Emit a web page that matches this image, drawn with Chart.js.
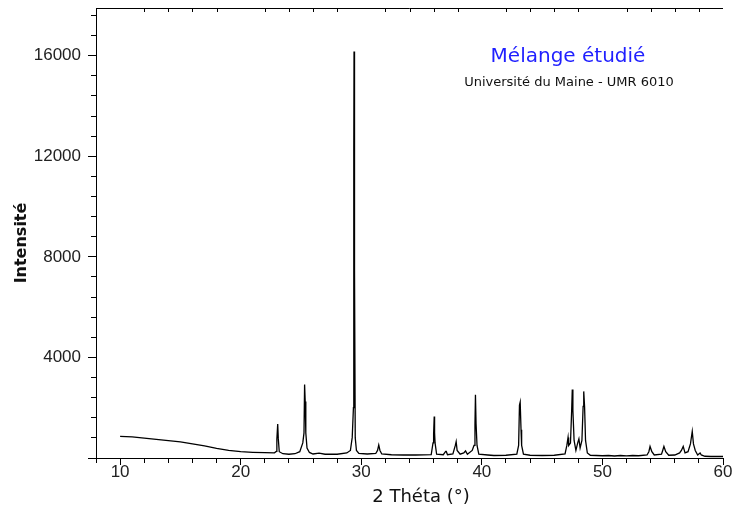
<!DOCTYPE html>
<html>
<head>
<meta charset="utf-8">
<script src="https://cdn.jsdelivr.net/npm/chart.js@4/dist/chart.umd.min.js"></script>
<style>
  html, body { margin: 0; padding: 0; background: #fff; }
  canvas { display: block; }
</style>
</head>
<body>
<canvas id="xrd" width="736" height="517"></canvas>
<script>
// diffractogram: 2θ (°) and intensity (counts)
const twoTheta = [
  10, 11, 12, 13, 14, 15, 16, 17, 18, 19, 20, 21, 22, 22.8,
  22.95, 23.0, 23.07, 23.12, 23.2, 23.5, 24.0, 24.5, 24.9,
  25.15, 25.25, 25.3, 25.35, 25.4, 25.5, 25.7, 26.0, 26.5, 27, 28, 28.8, 29.1,
  29.25, 29.35, 29.38, 29.4, 29.43, 29.45, 29.5, 29.6, 29.8, 30.5, 31.2,
  31.35, 31.45, 31.55, 31.7, 32.5, 33.5, 34.5, 35.8,
  35.95, 36.0, 36.05, 36.08, 36.12, 36.25, 36.8,
  37.0, 37.05, 37.15, 37.6,
  37.8, 37.87, 37.95, 38.2, 38.5, 38.65, 38.8, 39.2,
  39.35, 39.43, 39.47, 39.52, 39.6, 39.75, 40.5, 41, 42, 42.9,
  43.05, 43.12, 43.18, 43.25, 43.3, 43.45, 44, 45, 46, 46.9,
  47.05, 47.15, 47.2, 47.35, 47.45, 47.5, 47.55, 47.65, 47.8, 47.95, 48.05, 48.15,
  48.3, 48.4, 48.45, 48.52, 48.6, 48.75, 49, 50,
  50.5, 51, 51.5, 52, 52.5, 53, 53.7,
  53.85, 53.95, 54.1, 54.3, 54.9, 55.0, 55.1, 55.25, 55.5, 56.0,
  56.4, 56.55, 56.7, 56.85, 57.1, 57.3, 57.45, 57.55, 57.7, 57.9,
  58.1, 58.2, 58.5, 59, 60
];
const intensity = [
  860, 840, 790, 740, 690, 640, 560, 480, 380, 300, 250, 225, 210, 205,
  260, 760, 1350, 760, 250, 170, 150, 170, 250,
  600, 1000, 2920, 2250, 1000, 400, 220, 160, 190, 150, 150, 200, 300,
  820, 2000, 12190, 16170, 12190, 7470, 800, 300, 180, 160, 180,
  300, 520, 300, 160, 130, 120, 120, 130,
  600, 950, 1650, 1000, 600, 150, 130,
  260, 260, 130, 160,
  500, 650, 300, 150, 200, 280, 150, 300,
  500, 1350, 2520, 1360, 500, 150, 120, 100, 110, 150,
  500, 2100, 2220, 1120, 500, 150, 110, 100, 110, 160,
  500, 820, 500, 600, 1900, 2720, 1900, 700, 300, 600, 760, 400,
  700, 2050, 2650, 2040, 700, 200, 110, 90,
  100, 80, 100, 85, 100, 90, 120,
  250, 460, 250, 120, 150, 300, 460, 250, 110, 120,
  200, 300, 460, 200, 250, 560, 1060, 560, 300, 120,
  200, 120, 70, 60, 60
];

const xRange = [8, 60];
const yRange = [0, 17900];
const xMajorStep = 10, xMinorStep = 2;
const yMajorStep = 4000, yMinorStep = 800;

const title = 'Mélange étudié';
const subtitle = 'Université du Maine - UMR 6010';
const xTitle = '2 Théta (°)';
const yTitle = 'Intensité';

const tickFont = { family: 'Liberation Sans, Arial, sans-serif', size: 17 };

// chart.js bends stepSize when max is not a multiple, so set the ticks by hand
function stepTicks(range, step) {
  return scale => {
    const out = [];
    const first = Math.ceil(range[0] / step) * step;
    for (let v = first; v <= range[1] + 1e-9; v += step) out.push({ value: v });
    scale.ticks = out;
  };
}

// fixed axis boxes, no extra label padding pushed into the layout
function fitBox(size) {
  return s => {
    if (s.isHorizontal()) s.height = size; else s.width = size;
    s.paddingTop = s.paddingBottom = s.paddingLeft = s.paddingRight = 0;
  };
}

const frameAndTitles = {
  id: 'frameAndTitles',
  afterDraw(chart) {
    const { ctx, chartArea: a } = chart;
    const xs = chart.scales.xMinor;
    ctx.save();
    ctx.strokeStyle = '#000';
    ctx.lineWidth = 1;
    // top border with small inward ticks
    ctx.beginPath();
    ctx.moveTo(a.left, a.top + 0.5);
    ctx.lineTo(a.right, a.top + 0.5);
    xs.ticks.forEach(t => {
      if (t.value % xMajorStep === 0) return;
      const px = Math.round(xs.getPixelForValue(t.value)) + 0.5;
      ctx.moveTo(px, a.top);
      ctx.lineTo(px, a.top + 4);
    });
    ctx.stroke();

    ctx.textAlign = 'center';
    ctx.textBaseline = 'middle';
    ctx.fillStyle = '#1f1fff';
    ctx.font = '20px "DejaVu Sans", sans-serif';
    ctx.fillText(title, 568, 57);
    ctx.fillStyle = '#111';
    ctx.font = '13px "DejaVu Sans", sans-serif';
    ctx.fillText(subtitle, 569, 83);

    ctx.font = '18px "DejaVu Sans", sans-serif';
    ctx.fillText(xTitle, 421, 497);

    ctx.translate(22, 243);
    ctx.rotate(-Math.PI / 2);
    ctx.font = 'bold 16px "DejaVu Sans", sans-serif';
    ctx.fillText(yTitle, 0, 0);
    ctx.restore();
  }
};

new Chart(document.getElementById('xrd'), {
  type: 'line',
  data: {
    datasets: [{
      data: twoTheta.map((x, i) => ({ x, y: intensity[i] })),
      borderColor: '#000',
      borderWidth: 1.3,
      pointRadius: 0,
      tension: 0,
      fill: false,
      xAxisID: 'x',
      yAxisID: 'y'
    }]
  },
  options: {
    responsive: false,
    animation: false,
    devicePixelRatio: 1,
    events: [],
    layout: { padding: { top: 8, right: 13, left: 0, bottom: 0 } },
    plugins: { legend: { display: false }, tooltip: { enabled: false } },
    scales: {
      x: {
        type: 'linear', position: 'bottom', weight: 1,
        min: xRange[0], max: xRange[1],
        afterFit: fitBox(59),
        afterBuildTicks: stepTicks(xRange, xMajorStep),
        border: { display: true, color: '#000', width: 1 },
        grid: { drawOnChartArea: false, drawTicks: true, tickLength: 7, tickColor: '#000' },
        ticks: { color: '#222', font: tickFont, padding: -3, maxRotation: 0, autoSkip: false }
      },
      xMinor: {
        type: 'linear', position: 'bottom', weight: 0,
        min: xRange[0], max: xRange[1],
        afterFit: fitBox(0),
        afterBuildTicks: stepTicks(xRange, xMinorStep),
        border: { display: false },
        grid: { drawOnChartArea: false, drawTicks: true, tickLength: 5, tickColor: '#000' },
        ticks: { display: false, autoSkip: false }
      },
      y: {
        type: 'linear', position: 'left', weight: 1,
        min: yRange[0], max: yRange[1],
        afterFit: fitBox(96),
        afterBuildTicks: stepTicks(yRange, yMajorStep),
        border: { display: true, color: '#000', width: 1 },
        grid: { drawOnChartArea: false, drawTicks: true, tickLength: 8, tickColor: '#000' },
        ticks: { color: '#222', font: tickFont, padding: 7, autoSkip: false,
                 callback: v => v === 0 ? '' : String(v) }
      },
      yMinor: {
        type: 'linear', position: 'left', weight: 0,
        min: yRange[0], max: yRange[1],
        afterFit: fitBox(0),
        afterBuildTicks: stepTicks(yRange, yMinorStep),
        border: { display: false },
        grid: { drawOnChartArea: false, drawTicks: true, tickLength: 5, tickColor: '#000' },
        ticks: { display: false, autoSkip: false }
      }
    }
  },
  plugins: [frameAndTitles]
});
</script>
</body>
</html>
